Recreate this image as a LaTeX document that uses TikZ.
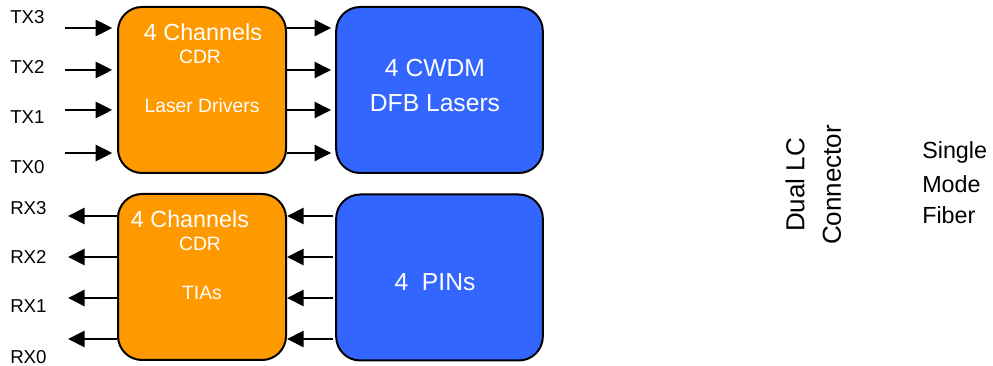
\documentclass[tikz,border=0pt]{standalone}
\usepackage{fontspec}
\setmainfont{Liberation Sans}
\usetikzlibrary{arrows.meta}
\definecolor{boxorange}{RGB}{255,153,0}
\definecolor{boxblue}{RGB}{51,102,255}
\begin{document}
\begin{tikzpicture}[x=0.75pt,y=-0.75pt,
  obox/.style={draw=black,line width=1.5pt,fill=boxorange,rounded corners=18pt,minimum width=126pt,minimum height=124.5pt,inner sep=0pt},
  bbox/.style={draw=black,line width=1.5pt,fill=boxblue,rounded corners=18pt,minimum width=155pt,minimum height=124.5pt,inner sep=0pt},
  arr/.style={line width=2.1pt,-{Triangle[length=12.5pt,width=12pt]}},
  wtxt/.style={text=white,inner sep=0pt},
  lbl/.style={font=\fontsize{14pt}{16pt}\selectfont,inner sep=0pt,anchor=west}]
\useasboundingbox (0,0) rectangle (993,366);
% boxes
\node[obox] (otx) at (202,90) {};
\node[obox] (orx) at (202,277) {};
\node[bbox] (btx) at (439.5,90) {};
\node[bbox] (brx) at (439.5,277.5) {};
% box texts
\node[wtxt,font=\fontsize{17.5pt}{20pt}\selectfont] (t1) at (203,32) {4 Channels};
\node[wtxt,font=\fontsize{14.5pt}{17pt}\selectfont] (t2) at (200,57) {CDR};
\node[wtxt,font=\fontsize{14.5pt}{17pt}\selectfont] (t3) at (202,106) {Laser Drivers};
\node[wtxt,font=\fontsize{17.5pt}{20pt}\selectfont] (r1) at (190,219) {4 Channels};
\node[wtxt,font=\fontsize{14.5pt}{17pt}\selectfont] (r2) at (200,244) {CDR};
\node[wtxt,font=\fontsize{14.5pt}{17pt}\selectfont] (r3) at (202,293) {TIAs};
\node[wtxt,font=\fontsize{18.5pt}{22pt}\selectfont] (b1) at (435,68) {4 CWDM};
\node[wtxt,font=\fontsize{18.5pt}{22pt}\selectfont] (b2) at (435,103) {DFB Lasers};
\node[wtxt,font=\fontsize{18.5pt}{22pt}\selectfont] (b3) at (435,282) {4\ \ PINs};
% labels
\node[lbl] (tx3) at (10,17) {TX3};
\node[lbl] (tx2) at (10,67) {TX2};
\node[lbl] (tx1) at (10,117) {TX1};
\node[lbl] (tx0) at (10,167) {TX0};
\node[lbl] (rx3) at (10,208) {RX3};
\node[lbl] (rx2) at (10,257) {RX2};
\node[lbl] (rx1) at (10,306) {RX1};
\node[lbl] (rx0) at (10,357) {RX0};
% connector and fiber text
\node[rotate=90,inner sep=0pt,font=\fontsize{19.5pt}{22pt}\selectfont] (dlc) at (795,185) {Dual LC};
\node[rotate=90,inner sep=0pt,font=\fontsize{19.5pt}{22pt}\selectfont] (con) at (832,185) {Connector};
\node[inner sep=0pt,anchor=west,font=\fontsize{17.5pt}{20pt}\selectfont] (s1) at (922,152) {Single};
\node[inner sep=0pt,anchor=west,font=\fontsize{17.5pt}{20pt}\selectfont] (s2) at (922,184) {Mode};
\node[inner sep=0pt,anchor=west,font=\fontsize{17.5pt}{20pt}\selectfont] (s3) at (922,215) {Fiber};
% TX arrows
\foreach \i/\y in {3/28,2/70,1/110,0/153}{
  \coordinate (ti\i) at (65,\y);
  \draw[arr,shorten >=3.5pt] (ti\i) -- (ti\i -| otx.west);
  \draw[arr,shorten >=3pt] (ti\i -| otx.east) -- (ti\i -| btx.west);
}
% RX arrows
\foreach \i/\y in {3/216,2/257,1/298,0/339}{
  \coordinate (ro\i) at (68,\y);
  \draw[arr] (ro\i -| orx.west) -- (ro\i);
  \draw[arr,shorten <=2pt] (ro\i -| brx.west) -- (ro\i -| orx.east);
}
\end{tikzpicture}
\end{document}
